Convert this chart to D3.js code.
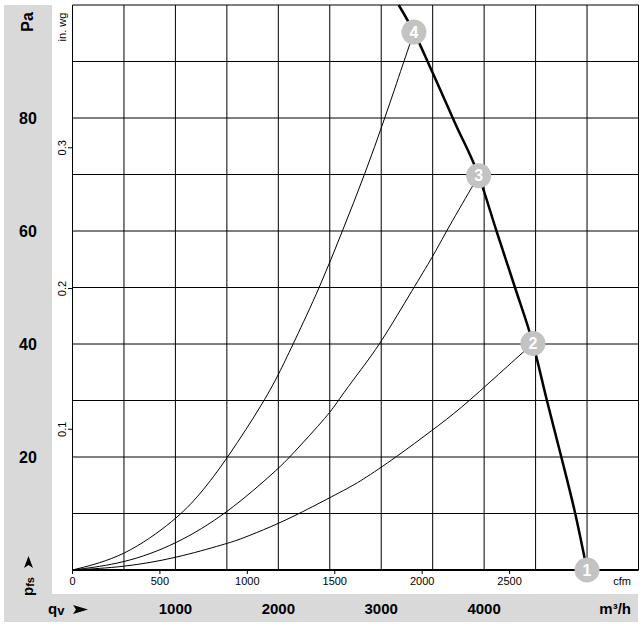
<!DOCTYPE html>
<html>
<head>
<meta charset="utf-8">
<script src="https://cdn.jsdelivr.net/npm/d3@7"></script>
<style>
  body { margin: 0; background: #fff; }
  svg { display: block; font-family: Arial, "Liberation Sans", sans-serif; }
</style>
</head>
<body>
<svg id="chart" width="642" height="627"></svg>
<script>
// tick labels
var m3hLabels = [1000, 2000, 3000, 4000];
var cfmLabels = [0, 500, 1000, 1500, 2000, 2500];
var paLabels = [20, 40, 60, 80];
var inwgLabels = [0.1, 0.2, 0.3];

// fan curve, q in m3/h, p in Pa
var fanCurve = [
  [3170, 100], [3318, 95.2], [3500, 88], [3720, 79], [3947, 69.8], [4120, 60],
  [4300, 50], [4474, 40.1], [4610, 30], [4750, 20], [4885, 10], [5000, 0]
];

// system curves ending on the operating points
var system4 = [
  [0, 0], [503, 2.3], [1005, 8.9], [1238, 13.3], [1503, 19.7], [1869, 30], [2024, 35.4],
  [2144, 40], [2403, 50], [2623, 60], [2840, 70], [3036, 80], [3220, 90], [3318, 95.2]
];
var system3 = [
  [0, 0], [503, 1.15], [1005, 4.5], [1503, 10], [2005, 18], [2112, 20], [2500, 27.7],
  [2581, 30], [2775, 34.8], [2992, 40], [3316, 50], [3503, 55.5], [3633, 60], [3947, 69.8]
];
var system2 = [
  [0, 0], [503, 0.5], [1005, 2.1], [1503, 4.7], [1626, 5.4], [1937, 7.7], [2209, 10],
  [2646, 14.2], [2791, 15.6], [3148, 20], [3500, 24.8], [3762, 28.4], [4150, 34.8], [4474, 40.1]
];
var system1 = [[0, 0], [5000, 0]];

var points = [
  {id: 1, q: 5000, p: 0},
  {id: 2, q: 4474, p: 40.1},
  {id: 3, q: 3947, p: 69.8},
  {id: 4, q: 3318, p: 95.2}
];

var svg = d3.select('#chart');

var x = d3.scaleLinear().domain([0, 5500]).range([72.5, 638.5]);
var y = d3.scaleLinear().domain([0, 100]).range([570, 5]);
var xCfm = d3.scaleLinear().domain([0, 5500 / 1.699]).range(x.range());
var yInwg = d3.scaleLinear().domain([0, 100 / 249.089]).range(y.range());

// grey bands
svg.append('path')
   .attr('d', 'M4,5 H52 V594 H638 V622 H4 Z')
   .attr('fill', '#d9d9d9');

// grid
var grid = svg.append('g').attr('stroke', '#000').attr('stroke-width', 1);
grid.selectAll('line.v')
    .data(x.ticks(11))
    .enter().append('line')
    .attr('class', 'v')
    .attr('x1', d => x(d)).attr('x2', d => x(d))
    .attr('y1', y(100)).attr('y2', y(0));
grid.selectAll('line.h')
    .data(y.ticks(10))
    .enter().append('line')
    .attr('class', 'h')
    .attr('x1', x(0)).attr('x2', x(5500))
    .attr('y1', d => y(d)).attr('y2', d => y(d));

// x axis base line
svg.append('line')
   .attr('x1', x(0)).attr('x2', x(5500))
   .attr('y1', y(0)).attr('y2', y(0))
   .attr('stroke', '#000').attr('stroke-width', 2);

// cfm ticks + labels
svg.selectAll('line.cfm')
   .data(cfmLabels)
   .enter().append('line')
   .attr('x1', d => xCfm(d)).attr('x2', d => xCfm(d))
   .attr('y1', 570).attr('y2', 574)
   .attr('stroke', '#000');
svg.selectAll('text.cfm')
   .data(cfmLabels)
   .enter().append('text')
   .attr('x', d => xCfm(d)).attr('y', 585)
   .attr('text-anchor', 'middle')
   .attr('font-size', '11px')
   .text(d => d);
svg.append('text').attr('x', 622).attr('y', 585)
   .attr('text-anchor', 'middle').attr('font-size', '11px').text('cfm');

// in. wg ticks + labels
svg.selectAll('line.inwg')
   .data(inwgLabels)
   .enter().append('line')
   .attr('x1', 68).attr('x2', 72.5)
   .attr('y1', d => yInwg(d)).attr('y2', d => yInwg(d))
   .attr('stroke', '#000');
svg.selectAll('text.inwg')
   .data(inwgLabels)
   .enter().append('text')
   .attr('transform', d => 'translate(66,' + yInwg(d) + ') rotate(-90)')
   .attr('text-anchor', 'middle')
   .attr('font-size', '11px')
   .text(d => d);
svg.append('text')
   .attr('transform', 'translate(66,27) rotate(-90)')
   .attr('text-anchor', 'middle').attr('font-size', '11px').text('in. wg');

// Pa labels
svg.selectAll('text.pa')
   .data(paLabels)
   .enter().append('text')
   .attr('x', 28).attr('y', d => y(d) + 6)
   .attr('text-anchor', 'middle')
   .attr('font-size', '16px').attr('font-weight', 'bold')
   .text(d => d);
svg.append('text')
   .attr('transform', 'translate(33,22) rotate(-90)')
   .attr('text-anchor', 'middle')
   .attr('font-size', '16px').attr('font-weight', 'bold')
   .text('Pa');

// m3/h labels
svg.selectAll('text.m3h')
   .data(m3hLabels)
   .enter().append('text')
   .attr('x', d => x(d)).attr('y', 614)
   .attr('text-anchor', 'middle')
   .attr('font-size', '15px').attr('font-weight', 'bold')
   .text(d => d);
svg.append('text').attr('x', 631).attr('y', 614)
   .attr('text-anchor', 'end')
   .attr('font-size', '15px').attr('font-weight', 'bold')
   .text('m³/h');

// qv and pfs labels with arrows
var qv = svg.append('text').attr('x', 48).attr('y', 614)
   .attr('font-size', '15px').attr('font-weight', 'bold');
qv.append('tspan').text('q');
qv.append('tspan').attr('font-size', '13px').attr('dy', 1).text('v');
svg.append('path')
   .attr('d', 'M73,605 L88,609.5 L73,614 L76,609.5 Z')
   .attr('fill', '#000');

var pfs = svg.append('text')
   .attr('transform', 'translate(33,596) rotate(-90)')
   .attr('font-size', '15px').attr('font-weight', 'bold');
pfs.append('tspan').text('p');
pfs.append('tspan').attr('font-size', '11px').attr('dy', 1).text('fs');
svg.append('path')
   .attr('d', 'M24,568 L28.5,556 L33,568 L28.5,565 Z')
   .attr('fill', '#000');

// curves
var smoothLine = d3.line()
   .x(d => x(d[0]))
   .y(d => y(d[1]))
   .curve(d3.curveBasis);
var fanLine = d3.line()
   .x(d => x(d[0]))
   .y(d => y(d[1]))
   .curve(d3.curveMonotoneX);

[system1, system2, system3, system4].forEach(function(s) {
  svg.append('path')
     .attr('d', smoothLine(s))
     .attr('fill', 'none')
     .attr('stroke', '#000')
     .attr('stroke-width', 1);
});

svg.append('path')
   .attr('d', fanLine(fanCurve))
   .attr('fill', 'none')
   .attr('stroke', '#000')
   .attr('stroke-width', 2.5);

// operating points
var mk = svg.selectAll('g.marker')
   .data(points)
   .enter().append('g')
   .attr('transform', d => 'translate(' + x(d.q) + ',' + y(d.p) + ')');
mk.append('circle').attr('r', 12.5).attr('fill', '#c3c3c3');
mk.append('text')
  .attr('text-anchor', 'middle')
  .attr('y', 5.5)
  .attr('font-size', '16px').attr('font-weight', 'bold')
  .attr('fill', '#fff')
  .text(d => d.id);
</script>
</body>
</html>
